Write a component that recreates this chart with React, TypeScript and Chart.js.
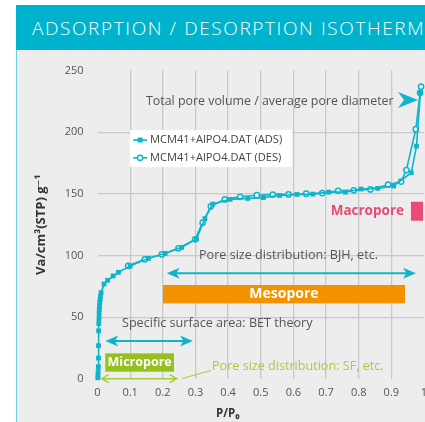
import React, { useEffect, useRef } from "react";
import { Chart, registerables } from "chart.js";

Chart.register(...registerables);

// ---------- data ----------
const ADS_P = [0.001, 0.0015, 0.002, 0.0025, 0.003, 0.003, 0.0035, 0.004, 0.0045, 0.005, 0.0055, 0.006, 0.007, 0.008, 0.009, 0.011, 0.02, 0.031, 0.048, 0.064, 0.1, 0.156, 0.207, 0.258, 0.303, 0.329, 0.353, 0.406, 0.46, 0.508, 0.558, 0.611, 0.659, 0.708, 0.759, 0.807, 0.858, 0.907, 0.961, 0.977, 0.989];
const ADS_V = [1, 3, 6, 10, 17, 27, 39, 45, 49, 53, 56, 59, 62, 64.5, 67, 70, 77, 80, 83.5, 86.5, 91.5, 97.8, 101.8, 106.7, 113.5, 130, 141.8, 145.6, 146.4, 147, 148.8, 149.6, 149.9, 151.5, 151.5, 154, 154.5, 156.4, 167.2, 188.8, 232];
const DES_P = [0.991, 0.988, 0.975, 0.946, 0.93, 0.89, 0.836, 0.785, 0.737, 0.688, 0.639, 0.585, 0.537, 0.488, 0.437, 0.39, 0.347, 0.322, 0.299, 0.248, 0.197, 0.145, 0.094];
const DES_V = [237, 232, 202.5, 169.4, 160, 157.5, 153.7, 153, 152.6, 150.7, 150.2, 149.6, 149.5, 149, 147.7, 145.6, 140, 126.7, 113.2, 106, 101, 97, 91.8];

const SERIES_NAMES = ["MCM41+AlPO4.DAT (ADS)", "MCM41+AlPO4.DAT (DES)"];
const X_TICK_LABELS = ["0", "0.1", "0.2", "0.3", "0.4", "0.5", "0.6", "0.7", "0.8", "0.9", "1"];
const Y_TICK_LABELS = ["0", "50", "100", "150", "200", "250"];

const TITLE = "ADSORPTION / DESORPTION ISOTHERM";
const X_TITLE = "P/P\u2080";
const Y_TITLE = "Va/cm\u00b3(STP) g\u207b\u00b9";

const TXT_TOTAL = "Total pore volume / average pore diameter";
const TXT_MACRO = "Macropore";
const TXT_BJH = "Pore size distribution: BJH, etc.";
const TXT_MESO = "Mesopore";
const TXT_BET = "Specific surface area: BET theory";
const TXT_MICRO = "Micropore";
const TXT_SF = "Pore size distribution: SF, etc.";

// ---------- styles ----------
const CYAN = "#0fb4cb";
const HEADER = "#00b3cc";
const ORANGE = "#f39200";
const GREEN = "#95c11f";
const LIGHT_GREEN = "#a6cd3c";
const PINK = "#e84c75";
const TEXT_GRAY = "#555555";
const GRID = "#c9c9c9";
const FONT = "'Open Sans', 'DejaVu Sans', sans-serif";

function dart(ctx: CanvasRenderingContext2D, tipX: number, y: number, dir: number, len: number, half: number, notch: number) {
  ctx.beginPath();
  ctx.moveTo(tipX, y);
  ctx.lineTo(tipX - dir * len, y - half);
  ctx.lineTo(tipX - dir * (len - notch), y);
  ctx.lineTo(tipX - dir * len, y + half);
  ctx.closePath();
  ctx.fill();
}

const annotationPlugin = {
  id: "isothermAnnotations",
  beforeDatasetsDraw(chart: any) {
    const { ctx, scales, chartArea } = chart;
    const X = (p: number) => scales.x.getPixelForValue(p);
    const Y = (v: number) => scales.y.getPixelForValue(v);
    ctx.save();
    ctx.textBaseline = "middle";

    // Total pore volume text + arrow
    ctx.font = `400 12.4px ${FONT}`;
    ctx.fillStyle = TEXT_GRAY;
    ctx.textAlign = "left";
    ctx.fillText(TXT_TOTAL, X(0.1485), Y(225.3));
    ctx.fillStyle = CYAN;
    dart(ctx, X(0.9816), Y(226.1), 1, 20, 8, 6);

    // Legend
    const lx0 = X(0.0995), lx1 = X(0.5957), ly0 = Y(201.8), ly1 = Y(171.8);
    ctx.fillStyle = "#ffffff";
    ctx.fillRect(lx0, ly0, lx1 - lx0, ly1 - ly0);
    const rows = [Y(193.7), Y(179.3)];
    rows.forEach((ry, i) => {
      ctx.strokeStyle = CYAN;
      ctx.lineWidth = 1.6;
      ctx.beginPath();
      ctx.moveTo(X(0.109), ry);
      ctx.lineTo(X(0.152), ry);
      ctx.stroke();
      const cx = X(0.1305);
      if (i === 0) {
        ctx.fillStyle = CYAN;
        ctx.fillRect(cx - 2.5, ry - 2.5, 5, 5);
      } else {
        ctx.beginPath();
        ctx.arc(cx, ry, 2.6, 0, Math.PI * 2);
        ctx.fillStyle = "#ffffff";
        ctx.fill();
        ctx.lineWidth = 1.5;
        ctx.stroke();
      }
      ctx.fillStyle = "#444444";
      ctx.font = `400 11.1px ${FONT}`;
      ctx.textAlign = "left";
      ctx.fillText(SERIES_NAMES[i], X(0.161), ry);
    });

    // Macropore
    ctx.font = `700 13.5px ${FONT}`;
    ctx.fillStyle = PINK;
    ctx.textAlign = "right";
    ctx.fillText(TXT_MACRO, X(0.9387), Y(136.4));
    ctx.fillRect(X(0.96), Y(143.7), X(0.997) - X(0.96), Y(128.3) - Y(143.7));

    // BJH text + arrow
    ctx.font = `400 12.6px ${FONT}`;
    ctx.fillStyle = TEXT_GRAY;
    ctx.textAlign = "left";
    ctx.fillText(TXT_BJH, X(0.3109), Y(99.9));
    const drawDouble = (p0: number, p1: number, v: number) => {
      const yy = Y(v);
      ctx.strokeStyle = CYAN;
      ctx.fillStyle = CYAN;
      ctx.lineWidth = 2;
      ctx.beginPath();
      ctx.moveTo(X(p0) + 6, yy);
      ctx.lineTo(X(p1) - 6, yy);
      ctx.stroke();
      dart(ctx, X(p0), yy, -1, 13, 5.5, 3.5);
      dart(ctx, X(p1), yy, 1, 13, 5.5, 3.5);
    };
    drawDouble(0.212, 0.9755, 85.7);

    // Mesopore bar
    ctx.fillStyle = ORANGE;
    const mx0 = X(0.2006), mx1 = X(0.9418), my0 = Y(76.2), my1 = Y(61.3);
    ctx.fillRect(mx0, my0, mx1 - mx0, my1 - my0);
    ctx.fillStyle = "#ffffff";
    ctx.font = `700 14px ${FONT}`;
    ctx.textAlign = "center";
    ctx.fillText(TXT_MESO, (mx0 + mx1) / 2, (my0 + my1) / 2);

    // BET
    ctx.font = `400 12.6px ${FONT}`;
    ctx.fillStyle = TEXT_GRAY;
    ctx.textAlign = "left";
    ctx.fillText(TXT_BET, X(0.075), Y(45.1));
    drawDouble(0.0239, 0.2925, 30.8);

    // Micropore box
    ctx.fillStyle = GREEN;
    const gx0 = X(0.0239), gx1 = X(0.2343), gy0 = Y(20.8), gy1 = Y(5.9);
    ctx.fillRect(gx0, gy0, gx1 - gx0, gy1 - gy0);
    ctx.fillStyle = "#ffffff";
    ctx.font = `700 12.5px ${FONT}`;
    ctx.textAlign = "center";
    ctx.fillText(TXT_MICRO, (gx0 + gx1) / 2, (gy0 + gy1) / 2);

    // Green thin arrow
    ctx.strokeStyle = LIGHT_GREEN;
    ctx.lineWidth = 1.5;
    const ay = Y(0.24), ax0 = X(0.0129), ax1 = X(0.2426);
    ctx.beginPath();
    ctx.moveTo(ax0, ay);
    ctx.lineTo(ax1, ay);
    ctx.moveTo(ax0 + 7, ay - 4);
    ctx.lineTo(ax0, ay);
    ctx.lineTo(ax0 + 7, ay + 4);
    ctx.moveTo(ax1 - 7, ay - 4);
    ctx.lineTo(ax1, ay);
    ctx.lineTo(ax1 - 7, ay + 4);
    ctx.stroke();
    ctx.lineWidth = 1;
    ctx.beginPath();
    ctx.moveTo(X(0.2588), Y(0.4));
    ctx.lineTo(X(0.3476), Y(6.9));
    ctx.stroke();
    ctx.fillStyle = LIGHT_GREEN;
    ctx.font = `400 12.6px ${FONT}`;
    ctx.textAlign = "left";
    ctx.fillText(TXT_SF, X(0.3507), Y(10));

    // X title
    ctx.fillStyle = "#333333";
    ctx.font = `700 11.5px ${FONT}`;
    ctx.textAlign = "left";
    ctx.fillText(X_TITLE, X(0.363), chartArea.bottom + 35);

    ctx.restore();
  },
};

export default function App() {
  const canvasRef = useRef<HTMLCanvasElement | null>(null);

  useEffect(() => {
    if (!canvasRef.current) return;
    const chart = new Chart(canvasRef.current, {
      type: "scatter",
      data: {
        datasets: [
          {
            label: SERIES_NAMES[0],
            data: ADS_P.map((p, i) => ({ x: p, y: ADS_V[i] })),
            showLine: true,
            borderColor: CYAN,
            backgroundColor: CYAN,
            borderWidth: 1.6,
            pointStyle: "rect",
            pointRadius: 3.4,
            pointBorderWidth: 0,
            pointBackgroundColor: CYAN,
            tension: 0,
            clip: false as any,
          },
          {
            label: SERIES_NAMES[1],
            data: DES_P.map((p, i) => ({ x: p, y: DES_V[i] })),
            showLine: true,
            borderColor: CYAN,
            backgroundColor: "#ffffff",
            borderWidth: 1.6,
            pointStyle: "circle",
            pointRadius: 2.6,
            pointBorderWidth: 1.5,
            pointBorderColor: CYAN,
            pointBackgroundColor: "#ffffff",
            tension: 0,
            clip: false as any,
          },
        ],
      },
      options: {
        animation: false,
        responsive: false,
        events: [],
        layout: { padding: { left: 0, right: 23, top: 20, bottom: 0 } },
        plugins: {
          legend: { display: false },
          tooltip: { enabled: false },
        },
        scales: {
          x: {
            type: "linear",
            min: 0,
            max: 1,
            afterFit: (s: any) => {
              s.height = 43;
            },
            border: { display: false },
            grid: {
              drawTicks: false,
              lineWidth: 1.3,
              color: (c: any) =>
                c.tick && (Math.abs(c.tick.value) < 1e-9 || Math.abs(c.tick.value - 1) < 1e-9) ? "rgba(0,0,0,0)" : GRID,
            },
            ticks: {
              stepSize: 0.1,
              padding: 7,
              color: TEXT_GRAY,
              font: { family: FONT, size: 11 },
              maxRotation: 0,
              autoSkip: false,
              callback: (_v: any, i: number) => X_TICK_LABELS[i] ?? "",
            },
          },
          y: {
            type: "linear",
            min: 0,
            max: 250,
            afterFit: (s: any) => {
              s.width = 80.5;
            },
            border: { display: false },
            grid: {
              drawTicks: false,
              lineWidth: 1.3,
              color: (c: any) =>
                c.tick && (c.tick.value === 0 || c.tick.value === 250) ? "rgba(0,0,0,0)" : GRID,
            },
            ticks: {
              stepSize: 50,
              padding: 14,
              color: TEXT_GRAY,
              font: { family: FONT, size: 11 },
              callback: (_v: any, i: number) => Y_TICK_LABELS[i] ?? "",
            },
            title: {
              display: true,
              text: Y_TITLE,
              color: "#333333",
              font: { family: FONT, size: 13, weight: "bold" },
              padding: { top: 16, bottom: 0 },
            },
          },
        },
      },
      plugins: [annotationPlugin],
    });
    return () => chart.destroy();
  }, []);

  return (
    <div
      style={{
        position: "fixed",
        left: 0,
        top: 0,
        width: 425,
        height: 422,
        overflow: "hidden",
        background: "#ffffff",
      }}
    >
      <div
        style={{
          position: "absolute",
          left: 16,
          top: 50,
          width: 409,
          height: 372,
          background: "#ededed",
          borderLeft: "1px solid #6fd0de",
          boxSizing: "border-box",
        }}
      />
      <div
        style={{
          position: "absolute",
          left: 16,
          top: 5,
          width: 409,
          height: 45,
          background: HEADER,
          overflow: "hidden",
        }}
      >
        <span
          style={{
            position: "absolute",
            left: 16,
            top: 14,
            whiteSpace: "nowrap",
            color: "#ffffff",
            fontFamily: FONT,
            fontWeight: 300,
            fontSize: 19,
            lineHeight: "19px",
            letterSpacing: 1.6,
          }}
        >
          {TITLE}
        </span>
      </div>
      <canvas
        ref={canvasRef}
        width={430}
        height={372}
        style={{ position: "absolute", left: 17, top: 50, display: "block" }}
      />
    </div>
  );
}
